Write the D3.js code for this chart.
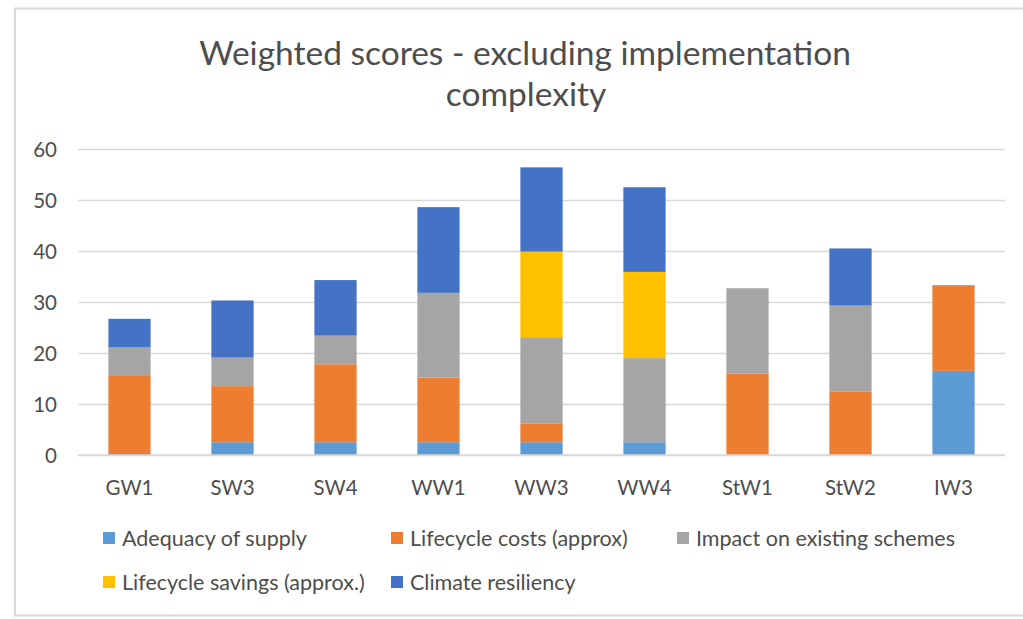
<!DOCTYPE html>
<html>
<head>
<meta charset="utf-8">
<script src="https://cdn.jsdelivr.net/npm/d3@7"></script>
<style>
  body { margin: 0; background: #fff; }
  text { font-family: Lato, "Open Sans", sans-serif; }
</style>
</head>
<body>
<div id="chart"></div>
<script>
// categories and series
var categories = ["GW1", "SW3", "SW4", "WW1", "WW3", "WW4", "StW1", "StW2", "IW3"];
var seriesNames = ["Adequacy of supply", "Lifecycle costs (approx)", "Impact on existing schemes",
                   "Lifecycle savings (approx.)", "Climate resiliency"];
var adequacy   = [0.4, 2.5, 2.5, 2.5, 2.5, 2.5, 0, 0, 16.5];
var costs      = [15.1, 11.0, 15.3, 12.7, 3.7, 0, 16.0, 12.4, 16.8];
var impact     = [5.6, 5.6, 5.6, 16.6, 16.9, 16.5, 16.7, 16.9, 0];
var savings    = [0, 0, 0, 0, 16.8, 16.9, 0, 0, 0];
var climate    = [5.6, 11.2, 10.9, 16.8, 16.5, 16.6, 0, 11.2, 0];
var yTicks = [0, 10, 20, 30, 40, 50, 60];
var colors = ["#5B9BD5", "#ED7D31", "#A5A5A5", "#FFC000", "#4472C4"];

var W = 1023, H = 619;
var textColor = '#4d4d4d';
var svg = d3.select('#chart').append('svg')
    .attr('width', W)
    .attr('height', H)

// chart frame
svg.append('rect')
    .attr('x', 15).attr('y', 8.5)
    .attr('width', 1030).attr('height', 607)
    .attr('fill', 'white')
    .attr('stroke', '#d9d9d9')
    .attr('stroke-width', 2)

// title
svg.append('text')
    .attr('x', 525).attr('y', 65)
    .attr('text-anchor', 'middle')
    .attr('font-size', 33.5)
    .attr('fill', textColor)
    .text('Weighted scores - excluding implementation')
svg.append('text')
    .attr('x', 526).attr('y', 106)
    .attr('text-anchor', 'middle')
    .attr('font-size', 33.5)
    .attr('fill', textColor)
    .text('complexity')

// build rows for the stack
var rows = categories.map(function(c, i) {
    return { cat: c, s0: adequacy[i], s1: costs[i], s2: impact[i], s3: savings[i], s4: climate[i] };
})
var keys = ["s0", "s1", "s2", "s3", "s4"];
var stacked = d3.stack().keys(keys)(rows);

var x = d3.scaleBand()
    .domain(categories)
    .range([78, 1005])
    .paddingInner(0.59)
    .paddingOuter(0.295)

var y = d3.scaleLinear()
    .domain([0, 60])
    .range([455, 149])

// gridlines
var grid = d3.axisLeft(y).tickValues(yTicks).tickSize(-(1005 - 78)).tickFormat('');
svg.append('g')
    .attr('transform', 'translate(78,0)')
    .call(grid)
    .call(function(g) {
        g.select('.domain').remove();
        g.selectAll('line').attr('stroke', '#d9d9d9').attr('stroke-width', 1.5);
    })

// y tick labels
var yAxis = d3.axisLeft(y).tickValues(yTicks).tickSize(0).tickPadding(0);
svg.append('g')
    .attr('transform', 'translate(57,0)')
    .call(yAxis)
    .call(function(g) {
        g.select('.domain').remove();
        g.selectAll('text')
            .attr('font-size', 20.5)
            .attr('font-family', 'Lato, sans-serif')
            .attr('fill', textColor)
            .attr('dy', '0.35em');
    })

// bars
svg.append('g').selectAll('g')
    .data(stacked)
    .join('g')
        .attr('fill', function(d, i) { return colors[i]; })
    .selectAll('rect')
    .data(function(d) { return d; })
    .join('rect')
        .attr('x', function(d) { return x(d.data.cat); })
        .attr('y', function(d) { return y(d[1]); })
        .attr('width', x.bandwidth())
        .attr('height', function(d) { return y(d[0]) - y(d[1]); })

// x axis line and labels
var xAxis = d3.axisBottom(x).tickSize(0).tickPadding(0);
svg.append('g')
    .attr('transform', 'translate(0,455)')
    .call(xAxis)
    .call(function(g) {
        g.select('.domain').attr('stroke', '#d9d9d9').attr('stroke-width', 1.5)
            .attr('d', 'M78,0H1005');
        g.selectAll('text')
            .attr('font-size', 20.5)
            .attr('font-family', 'Lato, sans-serif')
            .attr('fill', textColor)
            .attr('y', 40)
            .attr('dy', 0);
    })

// legend
var legendPos = [[103, 538], [391, 538], [677, 538], [103, 582], [391, 582]];
var legend = svg.append('g').selectAll('g')
    .data(seriesNames)
    .join('g')
        .attr('transform', function(d, i) { return 'translate(' + legendPos[i][0] + ',' + legendPos[i][1] + ')'; })
legend.append('rect')
    .attr('x', 0).attr('y', -6)
    .attr('width', 12).attr('height', 12)
    .attr('fill', function(d, i) { return colors[i]; })
legend.append('text')
    .attr('x', 19).attr('y', 0)
    .attr('dy', '0.35em')
    .attr('font-size', 21.5)
    .attr('fill', textColor)
    .text(function(d) { return d; })
</script>
</body>
</html>
